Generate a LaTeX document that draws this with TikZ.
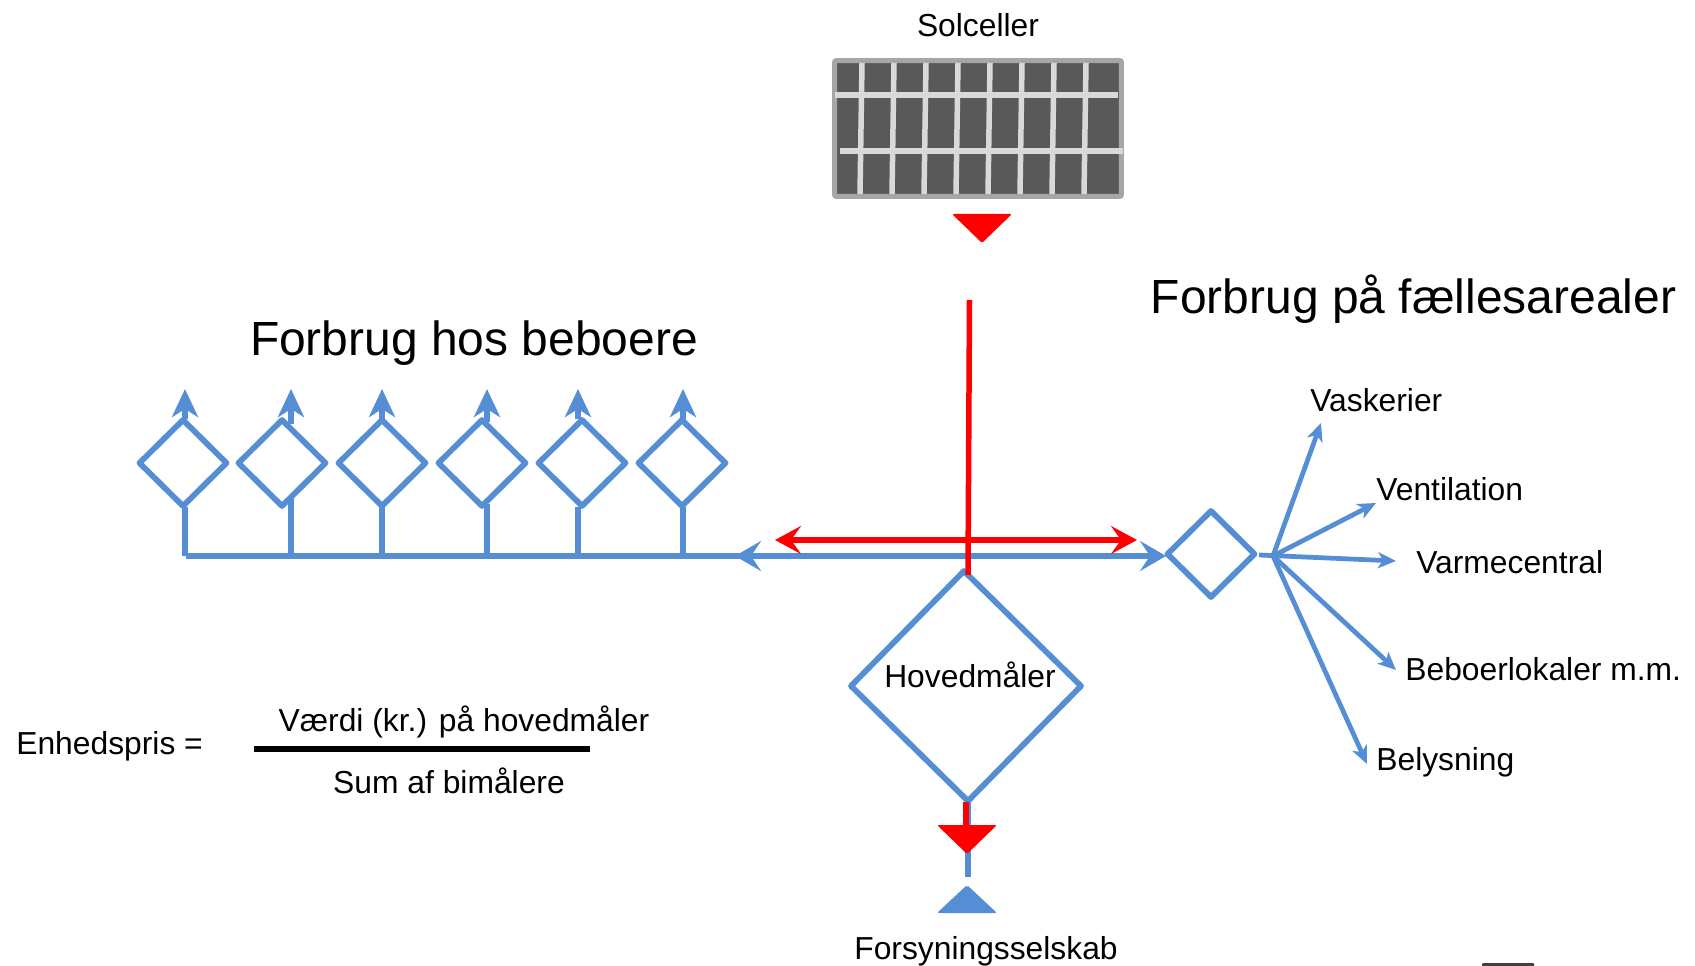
\documentclass[tikz,border=0pt]{standalone}
\usepackage{fontspec}
\setmainfont{Liberation Sans}
\usetikzlibrary{arrows.meta,shapes.geometric}
\definecolor{flow}{HTML}{558ED5}
\definecolor{panelrim}{HTML}{A6A6A6}
\definecolor{panelcell}{HTML}{595959}
\definecolor{panelbar}{HTML}{D9D9D9}
\begin{document}
\begin{tikzpicture}[x=0.02cm, y=-0.02cm,
  meter/.style = {draw=flow,diamond,line width=0.115cm,line join=round,inner sep=0pt,outer sep=0pt,minimum width=1.74cm,minimum height=1.72cm},
  feed/.style = {draw=flow,line width=0.11cm},
  solar/.style = {draw=red,line width=0.11cm},
  bigarrow/.style = {-{Stealth[length=0.52cm,width=0.6cm,inset=0.2cm]}},
  upper/.style = {-{Stealth[length=0.56cm,width=0.52cm,inset=0.16cm]}},
  branch/.style = {draw=flow,line width=0.095cm,-{Stealth[length=0.36cm,width=0.32cm,inset=0.1cm]}},
  lbl/.style = {font=\fontsize{18.1pt}{22pt}\selectfont,inner sep=0pt},
  head/.style = {font=\fontsize{27.3pt}{32pt}\selectfont,inner sep=0pt}]
  \useasboundingbox (0,0) rectangle (1695,966);

  % solar panel
  \node[draw=panelrim,fill=panelcell,line width=0.1cm,rounded corners=0.04cm,inner sep=0pt,outer sep=0pt,minimum width=5.74cm,minimum height=2.72cm] (panel) at (978,128.5) {};
  \foreach \x in {0,...,7}
    \draw[panelbar,line width=0.11cm] (862+32*\x,63) -- (860+32*\x,194);
  \draw[panelbar,line width=0.11cm] (835,95) -- (1118,95);
  \draw[panelbar,line width=0.11cm] (840,151) -- (1123,151);
  \fill[red,rounded corners=0.04cm] (952,214) -- (1012,214) -- (982,243) -- cycle;
  \node[lbl] (solceller) at (978,25) {Solceller};

  % meters
  \foreach \n/\x in {1/183,2/282,3/382,4/482,5/582,6/682}
    \node[meter] (m\n) at (\x,463) {};
  \node[meter] (fall) at (1211,554) {};
  \begin{scope}[shift={(966,686)},xslant=-0.0175]
    \node[meter,transform shape,minimum width=4.6cm,minimum height=4.6cm] (main) at (0,0) {};
  \end{scope}
  \node[lbl] (hoved) at (970,675) {Hovedmåler};

  % risers to the flats
  \foreach \n/\x/\ya/\yb in {1/185/419/507,2/291/424/498,3/382/419/507,4/487/422/504,5/578/419/507,6/683/419/507} {
    \coordinate (t\n) at (\x,389);
    \coordinate (u\n) at (\x,\ya);
    \coordinate (d\n) at (\x,\yb);
    \coordinate (b\n) at (\x,556);
    \draw[feed,upper] (u\n) -- (t\n);
    \draw[feed] (d\n) -- (b\n);
  }
  \coordinate (bus) at (186,556);
  \coordinate (split) at (800,556);
  \coordinate (leftend) at (735,556);
  \coordinate (rightend) at (1166,556);
  \draw[feed,bigarrow,line width=0.12cm] (bus) -- (rightend);
  \draw[feed,bigarrow,line width=0.12cm] (split) -- (leftend);

  % red flow
  \coordinate (redtop) at (969.5,300);
  \coordinate (redbot) at (968,575);
  \coordinate (redleft) at (775,540);
  \coordinate (redright) at (1137,540);
  \draw[solar] (redtop) -- (redbot);
  \draw[solar,{Stealth[length=0.52cm,width=0.56cm,inset=0.2cm]}-{Stealth[length=0.52cm,width=0.56cm,inset=0.2cm]}] (redleft) -- (redright);

  % supply
  \coordinate (feedend) at (968,877);
  \coordinate (redend) at (966,830);
  \coordinate (feedstart) at (968,802);
  \coordinate (redstart) at (966,802);
  \draw[feed] (feedstart) -- (feedend);
  \draw[solar] (redstart) -- (redend);
  \fill[red,rounded corners=0.04cm] (937,825) -- (997,825) -- (967,854) -- cycle;
  \fill[flow,rounded corners=0.04cm] (967,885) -- (997,913) -- (937,913) -- cycle;
  \node[lbl] (forsyning) at (986,951) {Forsyningsselskab};
  \fill[black!75,rounded corners=0.02cm] (1482,963) rectangle (1534,968);

  % branches
  \coordinate (hub) at (1273,556);
  \coordinate (stub) at (1259,555);
  \coordinate (vask) at (1321,423);
  \coordinate (vent) at (1376,503);
  \coordinate (varm) at (1396,561);
  \coordinate (bebo) at (1396,670);
  \coordinate (bely) at (1367,764);
  \draw[branch] (hub) -- (vask);
  \draw[branch] (hub) -- (vent);
  \draw[branch] (stub) -- (varm);
  \draw[branch] (hub) -- (bebo);
  \draw[branch] (hub) -- (bely);
  \node[lbl,anchor=west] (tvask) at (1310,400) {Vaskerier};
  \node[lbl,anchor=west] (tvent) at (1376,489) {Ventilation};
  \node[lbl,anchor=west] (tvarm) at (1416,562) {Varmecentral};
  \node[lbl,anchor=west] (tbebo) at (1405,669) {Beboerlokaler m.m.};
  \node[lbl,anchor=west] (tbely) at (1376,762) {Belysning};

  % headings
  \node[head] (hbeboere) at (474,343) {Forbrug hos beboere};
  \node[head] (hfaelles) at (1413.5,299) {Forbrug på fællesarealer};

  % price
  \node[lbl,anchor=west] (enhed) at (16,746) {Enhedspris =};
  \coordinate (fracl) at (254,749);
  \coordinate (fracr) at (590,749);
  \draw[black,line width=0.11cm] (fracl) -- (fracr);
  \node[lbl] (vaerdi) at (464,722) {Værdi (kr.) på hovedmåler};
  \node[lbl] (summ) at (449,781) {Sum af bimålere};
\end{tikzpicture}
\end{document}
